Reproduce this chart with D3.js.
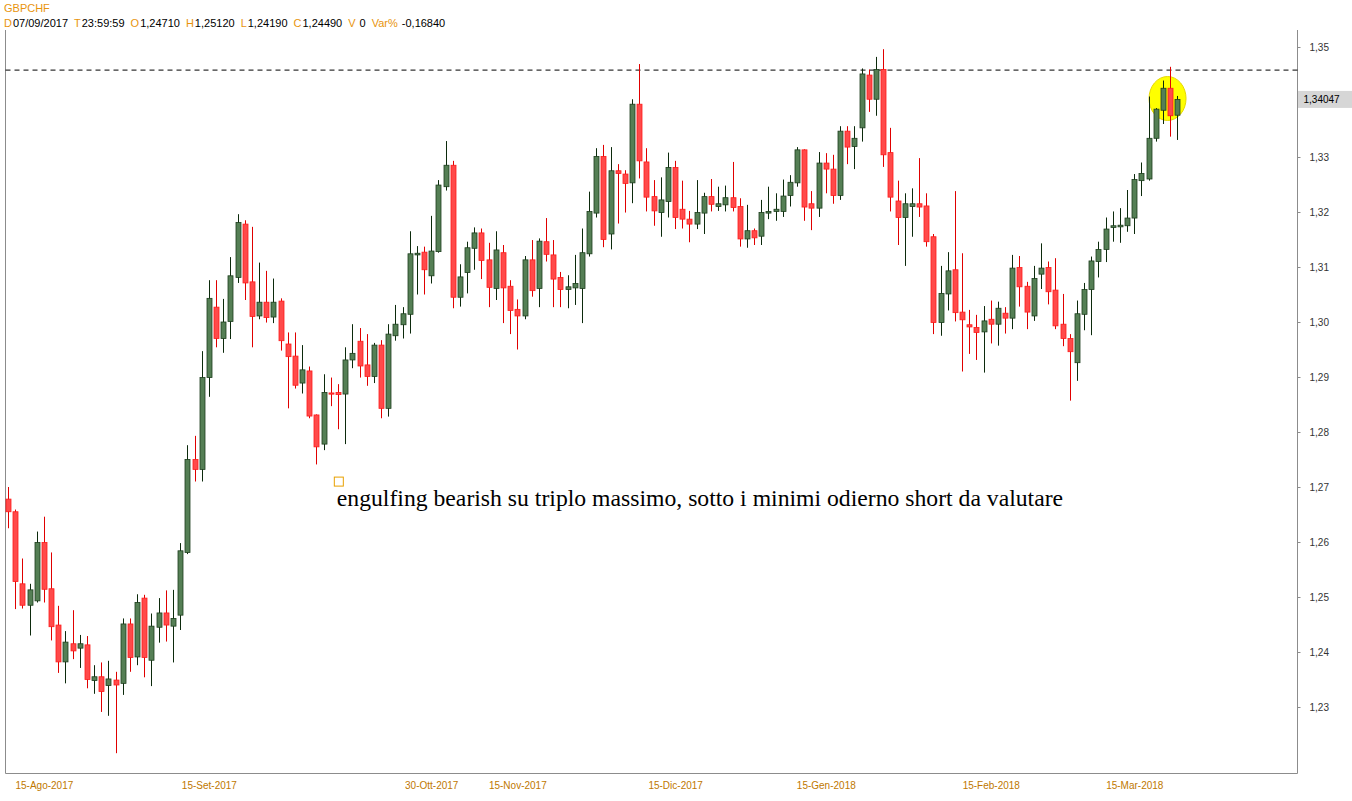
<!DOCTYPE html>
<html><head><meta charset="utf-8">
<script src="https://cdn.jsdelivr.net/npm/d3@7"></script>
<style>body{margin:0;background:#fff;overflow:hidden}svg{display:block}</style>
</head><body><svg id="c" width="1352" height="801"></svg>
<script>
const symbol = "GBPCHF";
const startDate = "2017-08-08";
const openV = [1.2678,1.2655,1.2524,1.2485,1.2493,1.2599,1.2515,1.2449,1.2382,1.2415,
1.2407,1.2413,1.2348,1.2355,1.2339,1.2349,1.2343,1.2451,1.2391,1.2498,
1.2385,1.2445,1.2471,1.2447,1.2467,1.2581,1.2750,1.2732,1.2899,1.3027,
1.2970,1.3001,1.3081,1.3178,1.3073,1.3011,1.3036,1.3009,1.3038,1.2960,
1.2938,1.2889,1.2911,1.2831,1.2778,1.2871,1.2872,1.2869,1.2931,1.2965,
1.2922,1.2901,1.2958,1.2843,1.2975,1.2995,1.3014,1.3122,1.3127,1.3084,
1.3128,1.3246,1.3285,1.3045,1.3090,1.3134,1.3162,1.3113,1.3061,1.3126,
1.3065,1.3023,1.3011,1.3113,1.3061,1.3146,1.3122,1.3081,1.3059,1.3062,
1.3061,1.3124,1.3198,1.3301,1.3160,1.3275,1.3269,1.3253,1.3396,1.3291,
1.3228,1.3199,1.3219,1.3281,1.3205,1.3187,1.3178,1.3198,1.3228,1.3210,
1.3213,1.3226,1.3210,1.3151,1.3166,1.3156,1.3198,1.3201,1.3201,1.3230,
1.3253,1.3313,1.3215,1.3207,1.3289,1.3278,1.3230,1.3347,1.3319,1.3353,
1.3449,1.3405,1.3459,1.3308,1.3220,1.3190,1.3210,1.3215,1.3211,1.3155,
1.2999,1.3051,1.3095,1.3018,1.2995,1.2990,1.2982,1.3005,1.2996,1.3016,
1.3007,1.3099,1.3065,1.3011,1.3087,1.3099,1.3058,1.2996,1.2970,1.2926,
1.3014,1.3059,1.3110,1.3132,1.3172,1.3173,1.3175,1.3189,1.3257,1.3260,
1.3334,1.3385,1.3425,1.3376];
const highV = [1.2700,1.2659,1.2570,1.2524,1.2619,1.2646,1.2581,1.2484,1.2438,1.2476,
1.2431,1.2429,1.2376,1.2381,1.2384,1.2364,1.2461,1.2461,1.2505,1.2504,
1.2470,1.2498,1.2512,1.2513,1.2598,1.2776,1.2793,1.2947,1.3076,1.3076,
1.3042,1.3118,1.3196,1.3185,1.3173,1.3108,1.3093,1.3079,1.3043,1.2981,
1.2981,1.2958,1.2919,1.2832,1.2905,1.2899,1.2887,1.2954,1.2996,1.2989,
1.2978,1.2962,1.2967,1.2996,1.3031,1.3027,1.3165,1.3138,1.3137,1.3193,
1.3258,1.3329,1.3293,1.3105,1.3146,1.3172,1.3170,1.3144,1.3165,1.3140,
1.3076,1.3041,1.3120,1.3149,1.3152,1.3189,1.3149,1.3091,1.3085,1.3122,
1.3170,1.3237,1.3316,1.3322,1.3318,1.3287,1.3276,1.3405,1.3469,1.3316,
1.3258,1.3263,1.3308,1.3293,1.3257,1.3202,1.3258,1.3235,1.3260,1.3246,
1.3248,1.3291,1.3225,1.3213,1.3170,1.3222,1.3246,1.3234,1.3259,1.3267,
1.3318,1.3314,1.3238,1.3309,1.3307,1.3304,1.3356,1.3356,1.3356,1.3461,
1.3459,1.3482,1.3496,1.3353,1.3257,1.3234,1.3243,1.3298,1.3234,1.3160,
1.3102,1.3127,1.3238,1.3125,1.3022,1.3013,1.3029,1.3039,1.3037,1.3027,
1.3122,1.3120,1.3073,1.3102,1.3143,1.3110,1.3116,1.3051,1.2978,1.3039,
1.3071,1.3119,1.3146,1.3190,1.3201,1.3207,1.3240,1.3269,1.3290,1.3410,
1.3389,1.3439,1.3464,1.3411];
const lowV = [1.2625,1.2478,1.2479,1.2430,1.2490,1.2490,1.2421,1.2362,1.2343,1.2387,
1.2371,1.2334,1.2324,1.2291,1.2284,1.2216,1.2322,1.2364,1.2376,1.2354,
1.2338,1.2417,1.2419,1.2381,1.2440,1.2578,1.2710,1.2710,1.2864,1.2954,
1.2944,1.2969,1.3071,1.3040,1.2954,1.3005,1.2999,1.2998,1.2948,1.2843,
1.2879,1.2870,1.2825,1.2741,1.2767,1.2847,1.2805,1.2778,1.2916,1.2899,
1.2884,1.2889,1.2825,1.2828,1.2966,1.2970,1.2979,1.3050,1.3050,1.3070,
1.3126,1.3239,1.3025,1.3028,1.3052,1.3095,1.3078,1.3027,1.3040,1.2998,
1.2978,1.2950,1.3005,1.3046,1.3027,1.3110,1.3027,1.3027,1.3025,1.3031,
1.2998,1.3119,1.3190,1.3136,1.3132,1.3179,1.3199,1.3216,1.3261,1.3201,
1.3175,1.3155,1.3190,1.3169,1.3170,1.3145,1.3169,1.3160,1.3201,1.3202,
1.3201,1.3201,1.3137,1.3135,1.3140,1.3140,1.3187,1.3184,1.3191,1.3210,
1.3246,1.3184,1.3167,1.3191,1.3234,1.3215,1.3222,1.3287,1.3278,1.3328,
1.3382,1.3375,1.3282,1.3201,1.3140,1.3102,1.3155,1.3191,1.3137,1.2978,
1.2975,1.3021,1.3001,1.2910,1.2942,1.2931,1.2908,1.2961,1.2957,1.2979,
1.2987,1.3028,1.2987,1.3002,1.3060,1.3032,1.2987,1.2956,1.2857,1.2893,
1.2985,1.2976,1.3081,1.3109,1.3146,1.3144,1.3164,1.3160,1.3229,1.3257,
1.3328,1.3360,1.3337,1.3331];
const closeV = [1.2655,1.2528,1.2485,1.2513,1.2599,1.2514,1.2446,1.2382,1.2418,1.2402,
1.2415,1.2350,1.2355,1.2328,1.2351,1.2340,1.2451,1.2390,1.2490,1.2390,
1.2447,1.2471,1.2449,1.2461,1.2584,1.2750,1.2732,1.2899,1.3043,1.2970,
1.3000,1.3084,1.3181,1.3071,1.3010,1.3036,1.3008,1.3036,1.2966,1.2937,
1.2885,1.2913,1.2829,1.2773,1.2872,1.2869,1.2868,1.2931,1.2943,1.2920,
1.2901,1.2958,1.2843,1.2978,1.2996,1.3015,1.3124,1.3125,1.3095,1.3129,
1.3249,1.3285,1.3045,1.3082,1.3135,1.3162,1.3112,1.3063,1.3131,1.3062,
1.3021,1.3011,1.3113,1.3057,1.3147,1.3123,1.3078,1.3059,1.3064,1.3070,
1.3126,1.3201,1.3301,1.3150,1.3275,1.3270,1.3252,1.3396,1.3293,1.3227,
1.3202,1.3222,1.3281,1.3190,1.3187,1.3178,1.3199,1.3228,1.3214,1.3215,
1.3226,1.3208,1.3151,1.3166,1.3153,1.3199,1.3201,1.3205,1.3229,1.3254,
1.3313,1.3209,1.3207,1.3289,1.3278,1.3230,1.3347,1.3318,1.3334,1.3451,
1.3405,1.3459,1.3304,1.3227,1.3190,1.3215,1.3215,1.3209,1.3146,1.2999,
1.3052,1.3093,1.3017,1.3004,1.2991,1.2981,1.3002,1.2996,1.3025,1.3007,
1.3098,1.3064,1.3018,1.3079,1.3098,1.3055,1.2993,1.2970,1.2946,1.3015,
1.3059,1.3111,1.3132,1.3169,1.3175,1.3176,1.3189,1.3259,1.3270,1.3334,
1.3387,1.3425,1.3375,1.34047];
const xTickDates = ["2017-08-15","2017-09-15","2017-10-30","2017-11-15","2017-12-15","2018-01-15","2018-02-15","2018-03-15"];
const xTickLabels = ["15-Ago-2017","15-Set-2017","30-Ott-2017","15-Nov-2017","15-Dic-2017","15-Gen-2018","15-Feb-2018","15-Mar-2018"];
const yTicks = [1.23,1.24,1.25,1.26,1.27,1.28,1.29,1.30,1.31,1.32,1.33,1.35];
const lastPrice = 1.34047;
const resistanceLevel = 1.3458;
const headerParts = [["D","07/09/2017"],["T","23:59:59"],["O","1,24710"],["H","1,25120"],["L","1,24190"],["C","1,24490"],["V","0"],["Var%","-0,16840"]];
const noteText = "engulfing bearish su triplo massimo, sotto i minimi odierno short da valutare";
const highlightIndex = [161, 162];

// calendar of trading days (weekdays) starting from startDate
const n = openV.length;
const dates = [];
{ let d = new Date(startDate + "T12:00:00Z");
  while (dates.length < n) { const wd = d.getUTCDay(); if (wd !== 0 && wd !== 6) dates.push(d.toISOString().slice(0,10)); d = new Date(d.getTime() + 86400000); } }
const candles = dates.map((d,i)=>({date:d,o:openV[i],h:highV[i],l:lowV[i],c:closeV[i]}));

const svg = d3.select("#c");
const FONT = "'Liberation Sans', Arial, sans-serif";
const plotL = 5.5, plotR = 1297.5, plotT = 30, plotB = 773.5;

const x = d3.scalePoint().domain(dates).range([8, 1177.3]);
const y = d3.scaleLinear().domain([1.23, 1.35]).range([707, 47]);
const fmt = v => v.toFixed(2).replace(".", ",");

// frame
svg.append("line").attr("x1",plotL).attr("x2",plotL).attr("y1",plotT).attr("y2",plotB).attr("stroke","#8c8c8c");
svg.append("line").attr("x1",plotL).attr("x2",plotR).attr("y1",plotB).attr("y2",plotB).attr("stroke","#8c8c8c");

// right axis
const ya = svg.append("g").attr("transform",`translate(${plotR},0)`)
  .call(d3.axisRight(y).tickValues(yTicks).tickFormat(fmt).tickSize(3).tickPadding(9));
ya.select(".domain").attr("stroke","#8c8c8c").attr("d",`M0,${plotT}V${plotB}`);
ya.selectAll(".tick line").attr("stroke","#8c8c8c");
ya.selectAll("text").attr("font-family",FONT).attr("font-size",10).attr("fill","#333");

// bottom axis
const lab = new Map(xTickDates.map((d,i)=>[d,xTickLabels[i]]));
const xa = svg.append("g").attr("transform",`translate(0,${plotB})`)
  .call(d3.axisBottom(x).tickValues(xTickDates).tickFormat(d=>lab.get(d)).tickSize(0).tickPadding(8));
xa.select(".domain").remove();
xa.selectAll("text").attr("font-family",FONT).attr("font-size",10).attr("fill","#c07800");

// resistance dashed line
svg.append("line").attr("x1",plotL).attr("x2",plotR).attr("y1",y(resistanceLevel)).attr("y2",y(resistanceLevel))
  .attr("stroke","#000").attr("stroke-dasharray","5,4");

// yellow highlight ellipse around the last candles
{ const xs = highlightIndex.map(i=>x(dates[i]));
  const cx = d3.mean(xs) + 1;
  const cy = y((openV[highlightIndex[1]] + closeV[highlightIndex[1]])/2) - 3.5;
  svg.append("ellipse").attr("cx",cx).attr("cy",cy).attr("rx",18.5).attr("ry",22)
    .attr("fill","#ffff00").attr("stroke","#e6d800").attr("stroke-width",1);
}

// candles
const g = svg.append("g");
const cg = g.selectAll("g").data(candles).join("g");
cg.append("line")
  .attr("x1",d=>Math.round(x(d.date))+0.5).attr("x2",d=>Math.round(x(d.date))+0.5)
  .attr("y1",d=>y(d.h)).attr("y2",d=>y(d.l))
  .attr("stroke",d=>d.c>=d.o?"#0c2a0c":"#e00000").attr("stroke-width",1);
cg.append("rect")
  .attr("x",d=>Math.round(x(d.date))-2)
  .attr("y",d=>y(Math.max(d.o,d.c)))
  .attr("width",5)
  .attr("height",d=>Math.max(1.2, Math.abs(y(d.o)-y(d.c))))
  .attr("fill",d=>d.c>=d.o?"#557f55":"#ff4a4a")
  .attr("stroke",d=>d.c>=d.o?"#1c3d1c":"#ff1a1a").attr("stroke-width",0.8);

// current price label
svg.append("rect").attr("x",plotR+0.5).attr("y",y(lastPrice)-8.5).attr("width",54).attr("height",17).attr("fill","#d6d6d6");
svg.append("text").attr("x",plotR+6).attr("y",y(lastPrice)+3.5).attr("font-family",FONT).attr("font-size",10).attr("fill","#000").text(lastPrice.toFixed(5).replace(".", ","));

// header
svg.append("text").attr("x",4).attr("y",12).attr("font-family",FONT).attr("font-size",11).attr("fill","#e8940c").text(symbol);
const ht = svg.append("text").attr("x",4).attr("y",27).attr("font-family",FONT).attr("font-size",11);
headerParts.forEach((p,i)=>{
  ht.append("tspan").attr("dx", i===0?0:6).attr("fill","#e8940c").text(p[0]);
  ht.append("tspan").attr("dx", p[0]==="V"||p[0]==="Var%"?4:1).attr("fill","#000").text(p[1]);
});

// annotation
const noteDate = dates[45];
svg.append("rect").attr("x",x(noteDate)+3.5).attr("y",y(1.2718)).attr("width",9).attr("height",9)
  .attr("fill","none").attr("stroke","#e8a000").attr("stroke-width",1);
svg.append("text").attr("x",x(noteDate)+6).attr("y",y(1.2666)).attr("font-family","'Liberation Serif','Times New Roman',serif")
  .attr("font-size",23.7).attr("fill","#000").text(noteText);
</script></body></html>
